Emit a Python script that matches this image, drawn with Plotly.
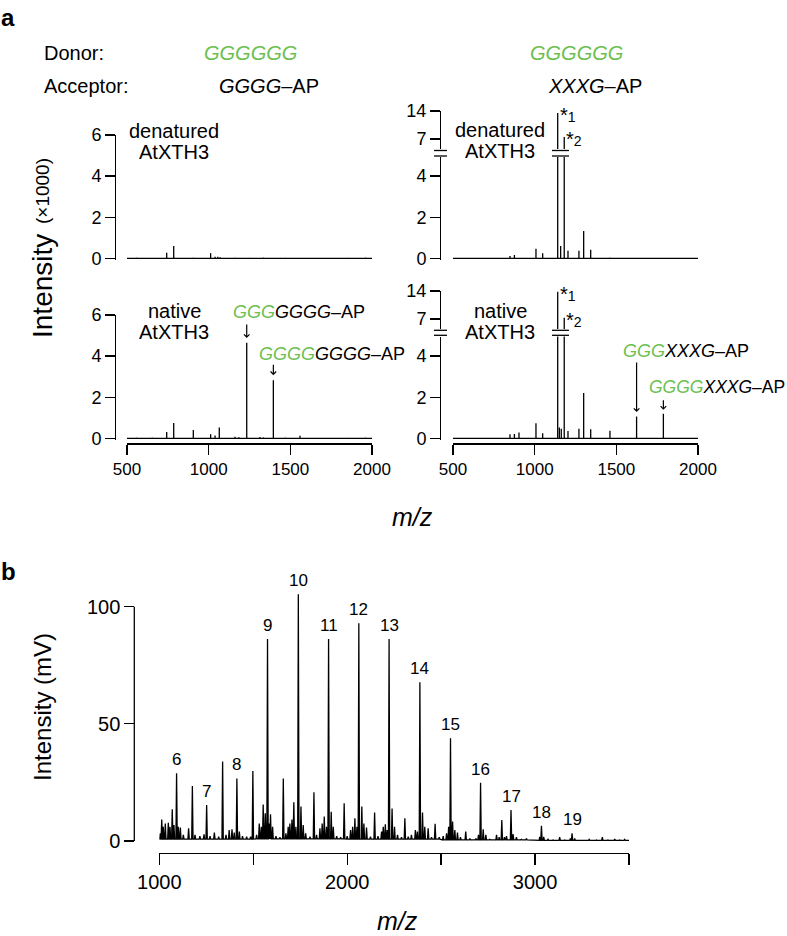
import plotly.graph_objects as go
import numpy as np

W, H = 787, 936
FONT = "Liberation Sans, Arial, Helvetica, sans-serif"
GREEN = "#6dbf52"

# ---------------- panel a data ----------------
MZ_TICKS_A = [500, 1000, 1500, 2000]
TICKS_LEFT = [0, 2, 4, 6]
TICKS_LOW = [0, 2, 4]
TICKS_HIGH = [7, 14]

den_gggg_mz = [560, 655, 743, 786, 906, 1012, 1039, 1056, 1070, 1161, 1250, 1335, 1470, 1600, 1720, 1850, 1960]
den_gggg_int = [0.03, 0.02, 0.27, 0.6, 0.03, 0.25, 0.08, 0.07, 0.05, 0.03, 0.02, 0.03, 0.02, 0.02, 0.02, 0.02, 0.03]

nat_gggg_mz = [560, 655, 743, 786, 906, 1012, 1039, 1065, 1161, 1185, 1233, 1314, 1335, 1396, 1470, 1559, 1700, 1850, 1960]
nat_gggg_int = [0.03, 0.03, 0.31, 0.75, 0.4, 0.2, 0.14, 0.52, 0.08, 0.05, 4.65, 0.06, 0.04, 2.83, 0.03, 0.12, 0.02, 0.02, 0.03]

den_xxxg_mz = [600, 700, 849, 876, 1008, 1049, 1141, 1159, 1181, 1204, 1271, 1300, 1343, 1461, 1600, 1750, 1900]
den_xxxg_int = [0.02, 0.02, 0.11, 0.16, 0.46, 0.24, 13.5, 0.6, 7.5, 0.37, 0.37, 1.33, 0.41, 0.03, 0.02, 0.02, 0.02]

nat_xxxg_mz = [600, 700, 849, 876, 904, 1008, 1049, 1141, 1151, 1163, 1181, 1204, 1271, 1300, 1343, 1461, 1624, 1788, 1900]
nat_xxxg_int = [0.02, 0.02, 0.2, 0.21, 0.28, 0.73, 0.24, 13.8, 0.52, 0.47, 7.3, 0.36, 0.47, 2.2, 0.44, 0.37, 1.06, 1.19, 0.02]

# labelled transglycosylation products (m/z)
prod_left_mz = [1233, 1396]
prod_right_mz = [1624, 1788]
star_labels = ["1", "2"]

# ---------------- panel b data ----------------
MZ_TICKS_B = [1000, 1500, 2000, 2500, 3000, 3500]
MZ_TICKLABELS_B = ["1000", "", "2000", "", "3000", ""]
INT_TICKS_B = [0, 50, 100]

b_dp = [6, 7, 8, 9, 10, 11, 12, 13, 14, 15, 16, 17, 18, 19]
b_dp_mz = [1092, 1252, 1413, 1576, 1740, 1901, 2062, 2223, 2387, 2550, 2710, 2872, 3034, 3197]
b_dp_int = [28.9, 15.4, 26.7, 86.2, 105.3, 86.2, 92.9, 86.2, 67.7, 43.8, 24.9, 13.2, 6.5, 3.3]

b_minor_mz = [1005, 1013, 1021, 1032, 1048, 1057, 1069, 1078, 1101, 1112, 1128, 1156, 1176, 1190, 1216, 1238,
              1270, 1293, 1316, 1337, 1355, 1372, 1387, 1399, 1426, 1443, 1465, 1486, 1498, 1518, 1532, 1543,
              1553, 1564, 1585, 1592, 1603, 1621, 1642, 1660, 1674, 1686, 1695, 1706, 1716, 1727, 1754, 1766,
              1779, 1802, 1823, 1837, 1855, 1867, 1878, 1890, 1915, 1926, 1944, 1965, 1984, 2000, 2018, 2029,
              2041, 2052, 2078, 2089, 2103, 2124, 2146, 2164, 2183, 2192, 2203, 2213, 2239, 2252, 2268, 2289,
              2307, 2325, 2342, 2363, 2374, 2401, 2413, 2431, 2449, 2468, 2490, 2511, 2529, 2540, 2561, 2573,
              2587, 2603, 2631, 2653, 2685, 2699, 2724, 2738, 2759, 2795, 2809, 2823, 2837, 2848, 2883, 2901,
              2927, 2954, 2990, 3025, 3046, 3069, 3096, 3131, 3158, 3188, 3211, 3247, 3288, 3327, 3358, 3388,
              3424, 3450, 3477]
b_minor_int = [3.3, 9.2, 6.1, 7.5, 7.8, 6.1, 13.5, 6.8, 6.1, 5.7, 2.6, 5.4, 23.5, 2.6, 2.1, 2.8,
               2.1, 3.6, 1.8, 33.9, 2.6, 4.7, 5.0, 3.6, 4.0, 2.1, 1.8, 1.8, 29.9, 2.6, 7.5, 6.1,
               15.6, 11.8, 7.5, 11.4, 6.1, 2.1, 1.6, 26.7, 3.3, 6.1, 7.5, 9.2, 16.5, 6.1, 14.7, 6.8,
               3.3, 1.8, 20.8, 2.6, 5.4, 7.5, 10.4, 6.1, 12.5, 6.1, 2.1, 1.6, 16.1, 2.1, 4.7, 6.1,
               9.7, 6.1, 14.7, 7.5, 5.7, 1.8, 12.2, 2.1, 4.0, 6.1, 7.1, 4.7, 13.9, 6.1, 2.6, 1.6,
               9.7, 1.8, 2.6, 4.7, 4.0, 12.2, 6.1, 5.4, 1.6, 7.3, 1.6, 2.1, 3.3, 6.1, 8.3, 4.7,
               3.6, 1.6, 4.0, 1.1, 1.1, 2.6, 5.0, 2.6, 0.7, 2.6, 1.6, 9.0, 1.6, 2.1, 3.0, 1.6,
               0.7, 1.1, 0.4, 1.8, 1.8, 0.7, 0.4, 1.6, 0.4, 1.1, 1.1, 0.3, 0.7, 0.4, 1.6, 0.4,
               0.8, 0.4, 0.7]
# baseline level by m/z region (step lookup)
b_base_edges = [1000, 1500, 2000, 2500, 3000]
b_base_level = [0.8, 0.9, 0.8, 0.5, 0.25]

# ---------------- geometry helpers (pixel layout) ----------------
def fx(p):
    return p / W


def fy(p):
    return 1 - p / H


def dom(p_bottom, p_top):
    return [fy(p_bottom), fy(p_top)]


S = 20.55            # px per intensity unit, panel a lower scales
S_UP = 4.0           # px per unit, broken upper scales
RLO = -0.08
XL = [127, 372]      # px of 500 / 2000, left column
XR = [453, 698]      # right column
YAX_L, YAX_R = 115, 440
P0_1, P0_2 = 258.3, 438.3      # px of intensity 0, rows 1/2
LOW_TOP_1, LOW_TOP_2 = 157.0, 336.5
UP_14_1, UP_14_2 = 111.0, 291.0
UP_BOT_1, UP_BOT_2 = 149.0, 329.0
XAX_Y = 443.3

fig = go.Figure()
LW = 1.3


def add_sticks(mz, inten, xa, ya):
    xs, ys = [], []
    for m, h in zip(mz, inten):
        xs += [m, m, None]
        ys += [0, h, None]
    fig.add_trace(go.Scatter(x=xs, y=ys, mode="lines", line=dict(color="black", width=LW, simplify=False),
                             connectgaps=False, xaxis=xa, yaxis=ya, hoverinfo="skip", showlegend=False))
    if ya not in ("y3", "y6"):
        fig.add_trace(go.Scatter(x=[MZ_TICKS_A[0], MZ_TICKS_A[-1]], y=[0, 0], mode="lines",
                                 line=dict(color="black", width=LW), xaxis=xa, yaxis=ya,
                                 hoverinfo="skip", showlegend=False))


add_sticks(den_gggg_mz, den_gggg_int, "x", "y")
add_sticks(den_xxxg_mz, den_xxxg_int, "x2", "y2")
add_sticks(den_xxxg_mz, den_xxxg_int, "x2", "y3")
add_sticks(nat_gggg_mz, nat_gggg_int, "x3", "y4")
add_sticks(nat_xxxg_mz, nat_xxxg_int, "x4", "y5")
add_sticks(nat_xxxg_mz, nat_xxxg_int, "x4", "y6")

# panel b profile
all_mz = np.array(b_dp_mz + b_minor_mz, dtype=float)
all_int = np.array(b_dp_int + b_minor_int, dtype=float)
order = np.argsort(all_mz)
all_mz, all_int = all_mz[order], all_int[order]
HW = 3.5
px_, py_ = [MZ_TICKS_B[0]], [b_base_level[0]]
for m, h in zip(all_mz, all_int):
    f = b_base_level[int(np.searchsorted(b_base_edges, m, side="right")) - 1]
    f = min(f, h)
    px_ += [m - HW, m, m + HW]
    py_ += [f, h, f]
px_.append(MZ_TICKS_B[-1])
py_.append(b_base_level[-1])
fig.add_trace(go.Scatter(x=px_, y=py_, mode="lines", line=dict(color="black", width=LW, simplify=False),
                         xaxis="x5", yaxis="y7", hoverinfo="skip", showlegend=False))

# ---------------- axes ----------------
axis_common = dict(showgrid=False, zeroline=False, automargin=False, linecolor="black", linewidth=LW,
                   tickcolor="black", tickwidth=LW, ticklen=10, ticks="outside",
                   fixedrange=True, tickfont=dict(size=18, color="black", family=FONT))
hidden_x = dict(visible=False, showgrid=False, zeroline=False, automargin=False, fixedrange=True)
xtickfont_a = dict(size=17, color="black", family=FONT)

lay = dict(
    xaxis=dict(hidden_x, domain=[fx(XL[0]), fx(XL[1])], range=[500, 2000], anchor="y"),
    xaxis2=dict(hidden_x, domain=[fx(XR[0]), fx(XR[1])], range=[500, 2000], anchor="y2"),
    xaxis3=dict(axis_common, domain=[fx(XL[0]), fx(XL[1])], range=[500, 2000], anchor="free",
                position=fy(XAX_Y), showline=True, tickvals=MZ_TICKS_A, tickfont=xtickfont_a),
    xaxis4=dict(axis_common, domain=[fx(XR[0]), fx(XR[1])], range=[500, 2000], anchor="free",
                position=fy(XAX_Y), showline=True, tickvals=MZ_TICKS_A, tickfont=xtickfont_a),
    yaxis=dict(axis_common, domain=dom(P0_1 - RLO * S, P0_1 - 6 * S), range=[RLO, 6],
               anchor="free", position=fx(YAX_L), showline=True, tickvals=TICKS_LEFT),
    yaxis2=dict(axis_common, domain=dom(P0_1 - RLO * S, LOW_TOP_1), range=[RLO, (P0_1 - LOW_TOP_1) / S],
                anchor="free", position=fx(YAX_R), showline=True, tickvals=TICKS_LOW),
    yaxis3=dict(axis_common, domain=dom(UP_BOT_1, UP_14_1), range=[14 - (UP_BOT_1 - UP_14_1) / S_UP, 14],
                anchor="free", position=fx(YAX_R), showline=True, tickvals=TICKS_HIGH),
    yaxis4=dict(axis_common, domain=dom(P0_2 - RLO * S, P0_2 - 6 * S), range=[RLO, 6],
                anchor="free", position=fx(YAX_L), showline=True, tickvals=TICKS_LEFT),
    yaxis5=dict(axis_common, domain=dom(P0_2 - RLO * S, LOW_TOP_2), range=[RLO, (P0_2 - LOW_TOP_2) / S],
                anchor="free", position=fx(YAX_R), showline=True, tickvals=TICKS_LOW),
    yaxis6=dict(axis_common, domain=dom(UP_BOT_2, UP_14_2), range=[14 - (UP_BOT_2 - UP_14_2) / S_UP, 14],
                anchor="free", position=fx(YAX_R), showline=True, tickvals=TICKS_HIGH),
)
# panel b axes
SB = 2.343
B0 = 841.0
B_RLO, B_RHI = -1.5, 108
lay["xaxis5"] = dict(axis_common, domain=[fx(159.3), fx(629.0)], range=[1000, 3500], anchor="free",
                     position=fy(853.0), showline=True, tickvals=MZ_TICKS_B, ticktext=MZ_TICKLABELS_B,
                     ticklen=11, tickfont=dict(size=20, color="black", family=FONT))
lay["yaxis7"] = dict(axis_common, domain=dom(B0 - B_RLO * SB, B0 - B_RHI * SB), range=[B_RLO, B_RHI],
                     anchor="free", position=fx(134.3), showline=False, tickvals=INT_TICKS_B,
                     tickfont=dict(size=20, color="black", family=FONT))

fig.update_layout(template="none", width=W, height=H, margin=dict(l=0, r=0, t=0, b=0, pad=0),
                  autosize=False, paper_bgcolor="white", plot_bgcolor="rgba(0,0,0,0)",
                  font=dict(family=FONT, color="black"), showlegend=False, **lay)

LINE = dict(color="black", width=LW)

# panel b y-axis line (0..100 only)
fig.add_shape(type="line", xref="paper", yref="y7", x0=fx(134.3), x1=fx(134.3),
              y0=INT_TICKS_B[0], y1=INT_TICKS_B[-1], line=LINE)

# axis breaks
BRK = [(UP_BOT_1 + 1.5, LOW_TOP_1 - 1.0), (UP_BOT_2 + 1.3, LOW_TOP_2 - 1.2)]
for (ya, yb) in BRK:
    for yy in (ya, yb):
        fig.add_shape(type="line", xref="paper", yref="paper", x0=fx(YAX_R - 6), x1=fx(YAX_R + 7),
                      y0=fy(yy), y1=fy(yy), line=LINE)
for xa, mz, inten, (ya, yb), low_top, p0 in [
        ("x2", den_xxxg_mz, den_xxxg_int, BRK[0], LOW_TOP_1, P0_1),
        ("x4", nat_xxxg_mz, nat_xxxg_int, BRK[1], LOW_TOP_2, P0_2)]:
    big = [m for m, h in zip(mz, inten) if h > (p0 - low_top) / S]
    for yy in (ya, yb):
        fig.add_shape(type="line", xref=xa, yref="paper", x0=min(big) - 35, x1=max(big) + 29,
                      y0=fy(yy), y1=fy(yy), line=LINE)

ann = []


def txt(text, x, y, size=20, xanchor="center", yanchor="middle", **kw):
    ann.append(dict(text=text, x=fx(x), y=fy(y), xref="paper", yref="paper", showarrow=False,
                    xanchor=xanchor, yanchor=yanchor, font=dict(size=size, color="black", family=FONT), **kw))


def g(s):
    return f"<span style='color:{GREEN}'><i>{s}</i></span>"


txt("<b>a</b>", 8, 17, size=24)
txt("<b>b</b>", 8, 571, size=24)
txt("Donor:", 42, 53, xanchor="left")
txt("Acceptor:", 42, 86, xanchor="left")
txt(g("GGGGGG"), 250, 53)
txt(g("GGGGGG"), 576, 53)
txt("<i>GGGG</i>–AP", 269, 86)
txt("<i>XXXG</i>–AP", 595, 86)

txt("denatured", 174, 131)
txt("AtXTH3", 174, 152)
txt("denatured", 500, 130)
txt("AtXTH3", 500, 151)
txt("native", 174, 311)
txt("AtXTH3", 174, 332)
txt("native", 500, 311)
txt("AtXTH3", 500, 332)

txt(g("GGG") + "<i>GGGG</i>–AP", 231, 312, size=18, xanchor="left")
txt(g("GGGG") + "<i>GGGG</i>–AP", 257, 354, size=18, xanchor="left")
txt(g("GGG") + "<i>XXXG</i>–AP", 621, 351, size=18, xanchor="left")
txt(g("GGGG") + "<i>XXXG</i>–AP", 647, 387, size=17.5, xanchor="left")

txt("<i>m/z</i>", 412, 517, size=25)
txt("<i>m/z</i>", 397, 921, size=25)
txt("Intensity", 42, 286, size=28, textangle=-90)
txt("(×1000)", 43, 191, size=19, textangle=-90)
txt("Intensity (mV)", 42, 707, size=24, textangle=-90)

# arrows to products
arrow_specs = [("x3", "y4", nat_gggg_mz, nat_gggg_int, prod_left_mz, [(4.7, 15), (5, 12)]),
               ("x4", "y5", nat_xxxg_mz, nat_xxxg_int, prod_right_mz, [(4.5, 51), (4, 11)])]
for xa, ya, mz, inten, prods, geo in arrow_specs:
    lookup = dict(zip(mz, inten))
    for m, (gap, length) in zip(prods, geo):
        ann.append(dict(text="", x=m, y=lookup[m], xref=xa, yref=ya, showarrow=True, ax=0, ay=-length,
                        yshift=gap, arrowhead=4, arrowsize=0.9, arrowwidth=1.2, arrowcolor="black",
                        standoff=0))

# asterisk labels on truncated peaks
for xa, ya, mz, inten in [("x2", "y3", den_xxxg_mz, den_xxxg_int), ("x4", "y6", nat_xxxg_mz, nat_xxxg_int)]:
    big = sorted([(m, h) for m, h in zip(mz, inten) if h > 5])
    for (m, h), lab in zip(big, star_labels):
        ann.append(dict(text=f"<span style='font-size:20px'>*</span><span style='font-size:14px'>{lab}</span>",
                        x=m, y=h, xref=xa, yref=ya,
                        showarrow=False, xanchor="left", yanchor="middle", xshift=0, yshift=-2,
                        font=dict(size=18, color="black", family=FONT)))

# DP labels panel b
for d, m, h in zip(b_dp, b_dp_mz, b_dp_int):
    ann.append(dict(text=str(d), x=m, y=h, xref="x5", yref="y7", showarrow=False, xanchor="center",
                    yanchor="bottom", yshift=2, font=dict(size=17, color="black", family=FONT)))

fig.update_layout(annotations=ann)
fig.write_html("out.html",
               config={"displayModeBar": False, "staticPlot": True},
               post_script="document.body.style.margin='0px';document.body.style.padding='0px';"
                           "document.body.style.overflow='hidden';")
